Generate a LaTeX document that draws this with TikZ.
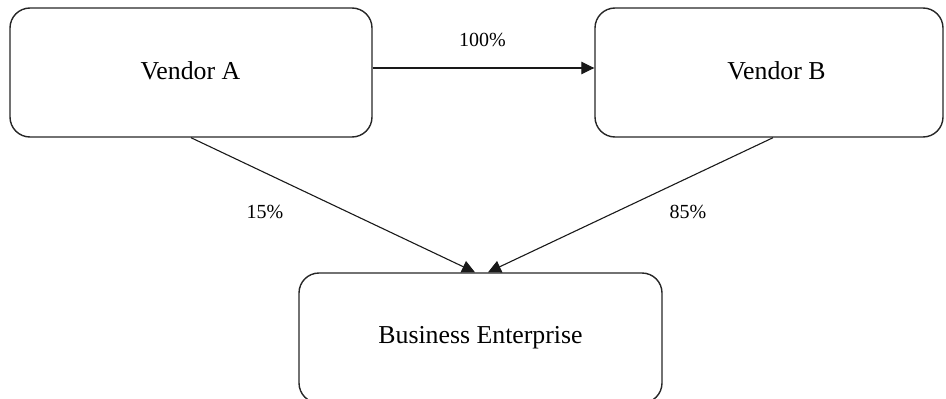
\documentclass[tikz,border=0pt]{standalone}
\usepackage{fontspec}
\setmainfont{Liberation Serif}
\usetikzlibrary{arrows.meta,calc}
\begin{document}
\begin{tikzpicture}[x=1pt,y=-1pt,
  box/.style={draw=black!85,line width=1.4pt,rounded corners=20pt,inner sep=0pt},
  boxtext/.style={font=\fontsize{25.8}{30}\selectfont,inner sep=0pt},
  conn/.style={draw=black!90,line width=1.1pt,-{Triangle[length=13pt,width=12.5pt]}},
  lbl/.style={font=\fontsize{20}{24}\selectfont,inner sep=0pt}]
\useasboundingbox (0,0) rectangle (946,399);
\node[box,minimum width=362pt,minimum height=129pt] (A) at (191,72.5) {};
\node[box,minimum width=348pt,minimum height=129pt] (B) at (769,72.5) {};
\node[box,minimum width=363pt,minimum height=130pt] (E) at (480.5,338) {};
\node[boxtext] (tA) at (190.5,71) {Vendor A};
\node[boxtext] (tB) at (776.5,71) {Vendor B};
\node[boxtext] (tE) at (480.5,338) {Business Enterprise};
\coordinate (EL) at ($(E.north)+(-5.5,0)$);
\coordinate (ER) at ($(E.north)+(7.5,0)$);
\draw[conn] ([yshift=4.5pt]A.east) -- ([yshift=4.5pt]B.west);
\draw[conn] (A.south) -- (EL);
\draw[conn] ([xshift=4pt]B.south) -- (ER);
\node[lbl] (l100) at (482.5,40) {100\%};
\node[lbl] (l15) at (265,212) {15\%};
\node[lbl] (l85) at (688,212) {85\%};
\end{tikzpicture}
\end{document}
